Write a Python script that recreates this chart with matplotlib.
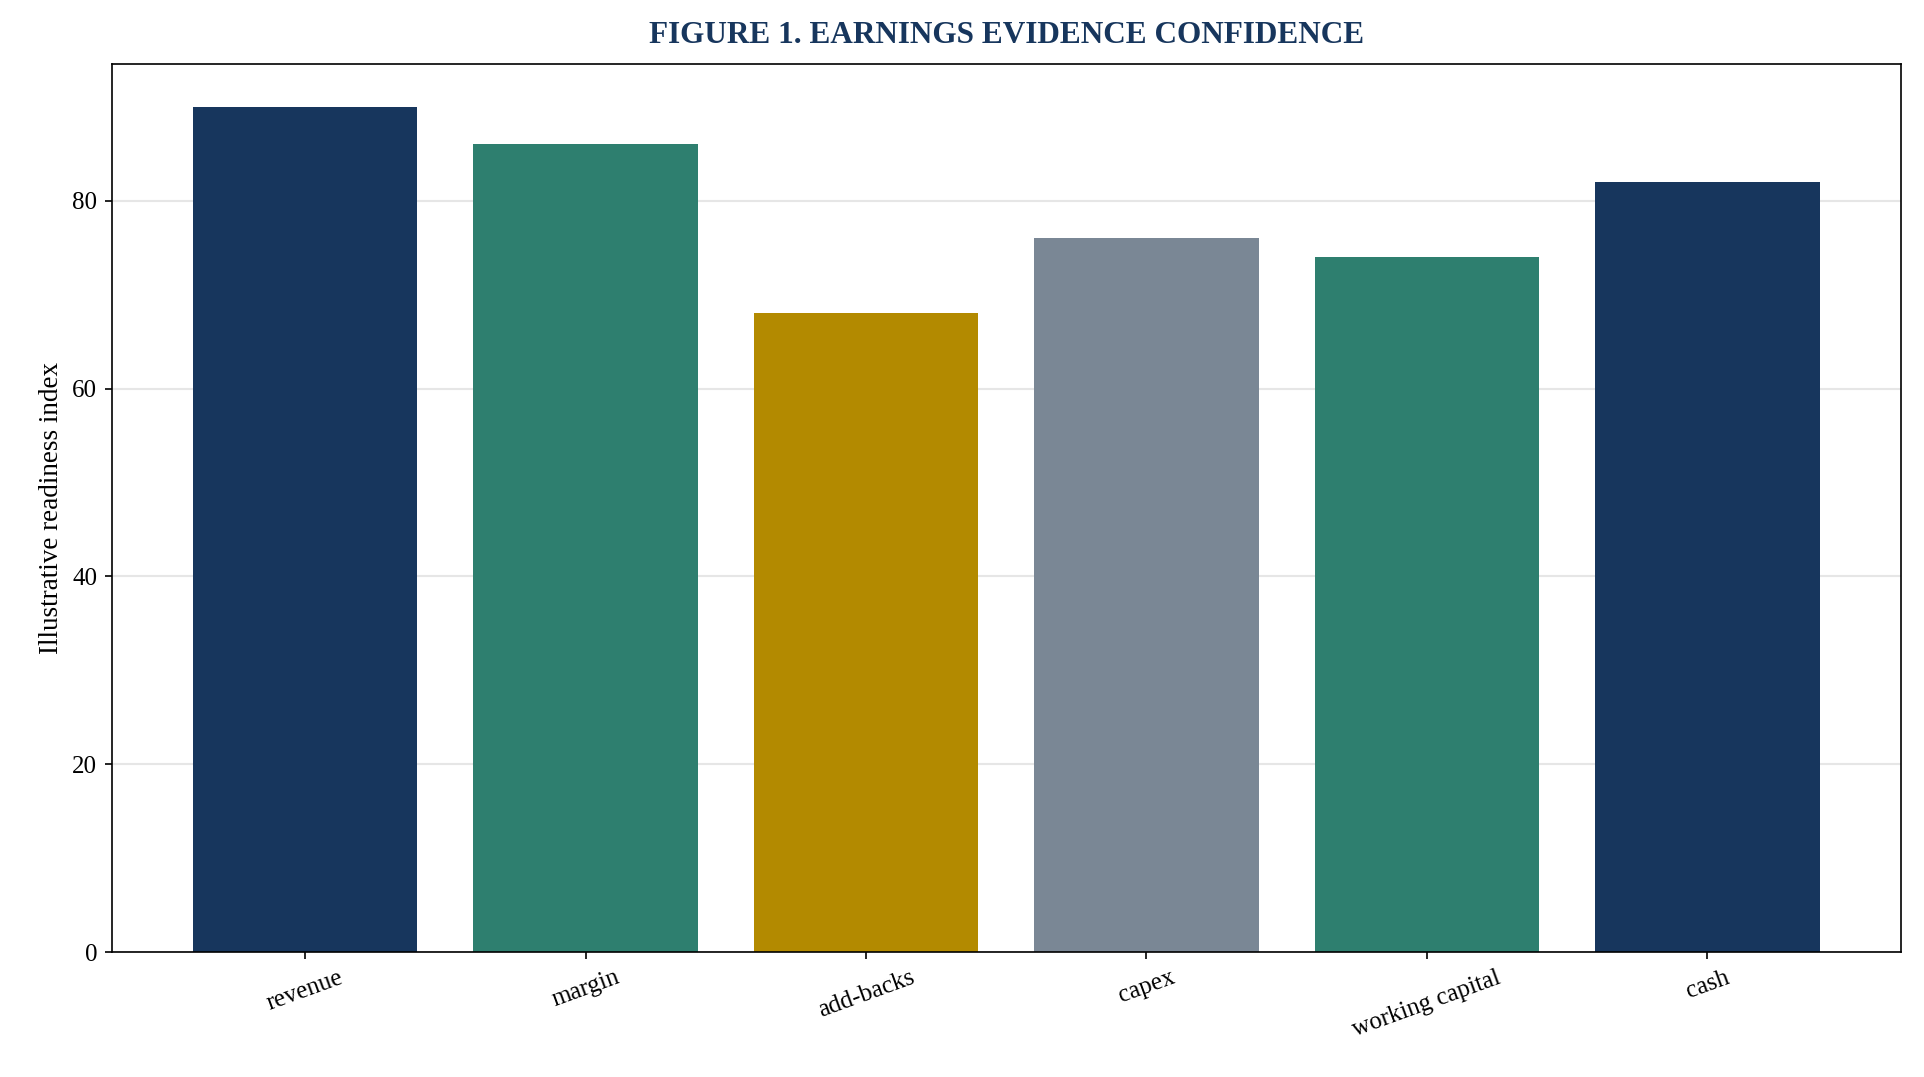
import matplotlib
matplotlib.use("Agg")
import matplotlib.pyplot as plt

categories = ["revenue", "margin", "add-backs", "capex", "working capital", "cash"]
values = [90, 86, 68, 76, 74, 82]
colors = ["#17365D", "#2E7F6F", "#B38A00", "#7A8795", "#2E7F6F", "#17365D"]

plt.rcParams['font.family'] = ['Liberation Serif', 'DejaVu Serif']
fig = plt.figure(figsize=(19.24/1.5, 10.77/1.5), dpi=150)
ax = fig.add_axes([0.058, 0.116, 0.93, 0.825])
ax.bar(range(len(categories)), values, width=0.8, color=colors, zorder=2)
ax.set_ylim(0, 94.6)
ax.set_xticks(range(len(categories)))
ax.set_xticklabels(categories, rotation=20, fontsize=12)
ax.tick_params(axis='y', labelsize=12)
ax.set_ylabel("Illustrative readiness index", fontsize=13)
ax.yaxis.grid(True, color="#e6e6e6", linewidth=1, zorder=0)
ax.set_axisbelow(True)
ax.set_title("FIGURE 1. EARNINGS EVIDENCE CONFIDENCE", fontsize=15, fontweight='bold', color="#17365D", pad=10)
fig.savefig("out.png", dpi=150)
